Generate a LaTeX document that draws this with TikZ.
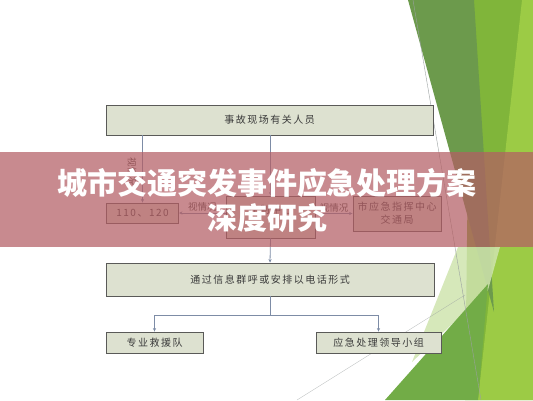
\documentclass[tikz,border=0pt]{standalone}
\usepackage{fontspec}
\newfontfamily\cjk{Noto Sans CJK SC}
\newfontfamily\cjkl{Noto Sans CJK SC}[LetterSpace=15]
\usetikzlibrary{arrows.meta}
\definecolor{boxfill}{HTML}{DDE1D0}
\definecolor{boxline}{HTML}{5A5A58}
\definecolor{connc}{HTML}{7D8CA6}
\definecolor{txt}{HTML}{3A3A3A}
\definecolor{gdark}{HTML}{6C9A4C}
\definecolor{gbright}{HTML}{80B53A}
\definecolor{glight}{HTML}{9CCB45}
\definecolor{gpale}{HTML}{CFE4AE}
\definecolor{gmid}{HTML}{72AC47}
\definecolor{bannerc}{RGB}{180,94,100}
\definecolor{thinl}{HTML}{9AA0A0}
\begin{document}
\begin{tikzpicture}[x=1pt,y=-1pt,
  fbox/.style={draw=boxline, line width=0.9pt, fill=boxfill, inner sep=0pt,
    font=\cjkl\fontsize{10}{13}\selectfont, text=txt, align=center},
  conn/.style={draw=connc, line width=0.8pt},
  arr/.style={conn, -{Stealth[length=3.5pt,width=3.2pt]}},
  lbl/.style={font=\cjk\fontsize{9.5}{11}\selectfont, text=txt, inner sep=1pt},
  thin/.style={draw=thinl, line width=0.4pt}]
\useasboundingbox (0,0) rectangle (533,400);
\fill[white] (0,0) rectangle (533,400);
% green decoration
\fill[gbright] (470,0) -- (533,0) -- (533,400) -- (465,400) -- cycle;
\fill[glight] (522,0) -- (533,0) -- (533,400) -- (478,400) -- cycle;
\fill[gdark] (408,0) -- (474,0) -- (494,312) -- cycle;
\fill[gpale, opacity=0.85] (412,362) -- (458,247) -- (500,247) -- (488,290) -- cycle;
\fill[gmid] (385,400) -- (488,284) -- (478,400) -- cycle;
\draw[thin] (413,0) -- (481,400);
\draw[thin, opacity=0.6] (297,400) -- (465,295);
% flowchart
\node[fbox, minimum width=327, minimum height=30] (top) at (269.5,120) {事故现场有关人员};
\node[fbox, minimum width=72, minimum height=20] (n110) at (142.5,213) {110、120};
\node[fbox, minimum width=89, minimum height=42] (ctrl) at (270.5,217) {控制中心\\[3pt]\mbox{}};
\node[fbox, minimum width=88, minimum height=35] (city) at (397,213.5) {市应急指挥中心\\交通局};
\node[fbox, minimum width=328, minimum height=33] (info) at (270,279.5) {通过信息群呼或安排以电话形式};
\node[fbox, minimum width=97, minimum height=21] (rescue) at (154.5,342.5) {专业救援队};
\node[fbox, minimum width=125, minimum height=21] (leader) at (378.5,342.5) {应急处理领导小组};
\draw[arr] (top.south -| n110.north) -- (n110.north);
\node[lbl, rotate=-90] (vlab) at (132,172) {视情况};
\draw[arr] (top.south -| ctrl.north) -- (ctrl.north);
\draw[arr] (ctrl.west |- n110.east) -- (n110.east) node[lbl, midway, above] (llab) {视情况};
\draw[arr] (ctrl.east |- city.west) -- (city.west) node[lbl, midway, above] (rlab) {视情况};
\draw[arr] (ctrl.south) -- (info.north);
\coordinate (split) at ([yshift=-19pt]info.south);
\draw[conn] (info.south) -- (split);
\draw[arr] (split) -| (rescue.north);
\draw[arr] (split) -| (leader.north);
% banner
\fill[bannerc, opacity=0.72] (0,152) rectangle (533,247);
\node[font=\cjk\bfseries\fontsize{30}{35}\selectfont, text=white, align=center, inner sep=0pt] (title) at (267,200.5)
  {城市交通突发事件应急处理方案\\深度研究};
\end{tikzpicture}
\end{document}
